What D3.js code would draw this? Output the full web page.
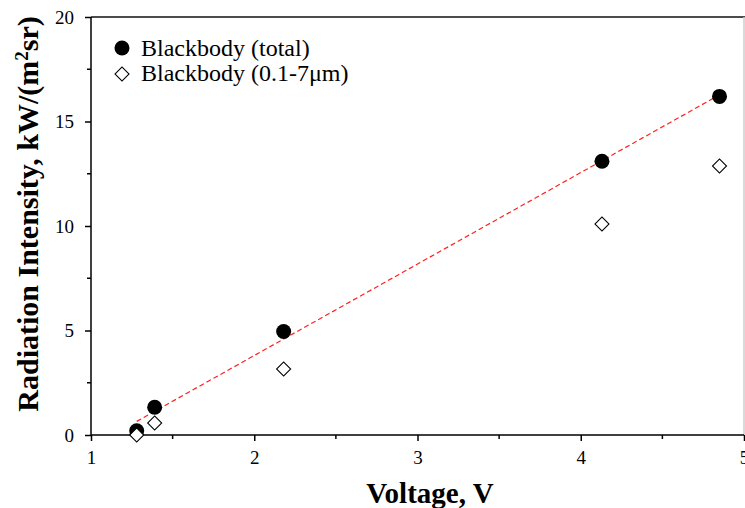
<!DOCTYPE html>
<html><head><meta charset="utf-8">
<script src="https://cdn.jsdelivr.net/npm/d3@7/dist/d3.min.js"></script>
<style>body{margin:0;background:#fff}svg{display:block}text{font-family:"Liberation Serif","Times New Roman",serif}</style>
</head><body>
<svg id="c" width="745" height="508"></svg>
<script>
const voltage = [1.28, 1.39, 2.18, 4.13, 4.85];
const totalIntensity = [0.2, 1.33, 4.95, 13.1, 16.2];
const bandIntensity = [0.0, 0.57, 3.16, 10.1, 12.87];
const xTicks = [1, 2, 3, 4, 5];
const yTicks = [0, 5, 10, 15, 20];
const xMinor = [1.5, 2.5, 3.5, 4.5];
const yMinor = [2.5, 7.5, 12.5, 17.5];
const seriesNames = ["Blackbody (total)", "Blackbody (0.1-7\u03bcm)"];

const svg = d3.select("#c");
const m = {l: 91, r: 744, t: 17, b: 435};
const x = d3.scaleLinear().domain([1, 5]).range([m.l, m.r]);
const y = d3.scaleLinear().domain([0, 20]).range([m.b, m.t]);

// frame
svg.append("line").attr("x1", m.l).attr("x2", 745).attr("y1", m.t).attr("y2", m.t).attr("stroke", "#111").attr("stroke-width", 1.5);
svg.append("line").attr("x1", m.r).attr("x2", m.r).attr("y1", m.t).attr("y2", m.b).attr("stroke", "#ccc").attr("stroke-width", 1.5);

// axes
const xAxis = svg.append("g").attr("transform", `translate(0,${m.b})`)
  .call(d3.axisBottom(x).tickValues(xTicks).tickFormat(d3.format("d")).tickSize(6).tickPadding(10));
xAxis.append("g").selectAll("line").data(xMinor).join("line")
  .attr("x1", d => x(d)).attr("x2", d => x(d)).attr("y1", 0).attr("y2", 4).attr("stroke", "#000").attr("stroke-width", 1.5);
const yAxis = svg.append("g").attr("transform", `translate(${m.l},0)`)
  .call(d3.axisLeft(y).tickValues(yTicks).tickFormat(d3.format("d")).tickSize(6).tickPadding(11));
yAxis.append("g").selectAll("line").data(yMinor).join("line")
  .attr("x1", 0).attr("x2", -4).attr("y1", d => y(d)).attr("y2", d => y(d)).attr("stroke", "#000").attr("stroke-width", 1.5);
[xAxis, yAxis].forEach(g => {
  g.select(".domain").attr("stroke", "#000").attr("stroke-width", 1.5);
  g.selectAll(".tick line").attr("stroke", "#000").attr("stroke-width", 1.5);
  g.selectAll(".tick text").attr("font-family", "Liberation Serif").attr("font-size", 19).attr("fill", "#000");
});
xAxis.selectAll(".domain").attr("d", `M${m.l},0H${m.r}`);
yAxis.selectAll(".domain").attr("d", `M0,${m.b}V${m.t}`);

// linear fit of total
const mx = d3.mean(voltage), my = d3.mean(totalIntensity);
const slope = d3.sum(voltage.map((v, i) => (v - mx) * (totalIntensity[i] - my))) / d3.sum(voltage.map(v => (v - mx) ** 2));
const icpt = my - slope * mx;
const x0 = d3.min(voltage), x1 = d3.max(voltage);
svg.append("line").attr("x1", x(x0)).attr("y1", y(icpt + slope * x0)).attr("x2", x(x1)).attr("y2", y(icpt + slope * x1))
  .attr("stroke", "#ff2020").attr("stroke-width", 1.2).attr("stroke-dasharray", "5,3");

// points
svg.append("g").selectAll("circle").data(voltage).join("circle")
  .attr("cx", d => x(d)).attr("cy", (d, i) => y(totalIntensity[i])).attr("r", 7.5).attr("fill", "#000");
const diamond = d3.symbol().type(d3.symbolSquare).size(98);
svg.append("g").selectAll("path").data(voltage).join("path")
  .attr("d", diamond).attr("transform", (d, i) => `translate(${x(d)},${y(bandIntensity[i])}) rotate(45)`)
  .attr("fill", "#fff").attr("stroke", "#000").attr("stroke-width", 1.1);

// legend
const lg = svg.append("g");
lg.append("circle").attr("cx", 122).attr("cy", 48).attr("r", 7.5).attr("fill", "#000");
lg.append("path").attr("d", diamond).attr("transform", "translate(122,74) rotate(45)").attr("fill", "#fff").attr("stroke", "#000").attr("stroke-width", 1.1);
lg.selectAll("text").data(seriesNames).join("text")
  .attr("x", 141).attr("y", (d, i) => 56 + i * 25).attr("font-size", 24).attr("fill", "#000").text(d => d);

// axis titles
svg.append("text").attr("x", 430).attr("y", 503).attr("text-anchor", "middle").attr("font-size", 29).attr("font-weight", "bold").text("Voltage, V");
const yt = svg.append("text").attr("transform", "translate(38,214) rotate(-90)").attr("text-anchor", "middle").attr("font-size", 30).attr("font-weight", "bold");
yt.append("tspan").text("Radiation Intensity, kW/(m");
yt.append("tspan").attr("baseline-shift", "super").attr("font-size", 19).text("2");
yt.append("tspan").text("sr)");
</script>
</body></html>
